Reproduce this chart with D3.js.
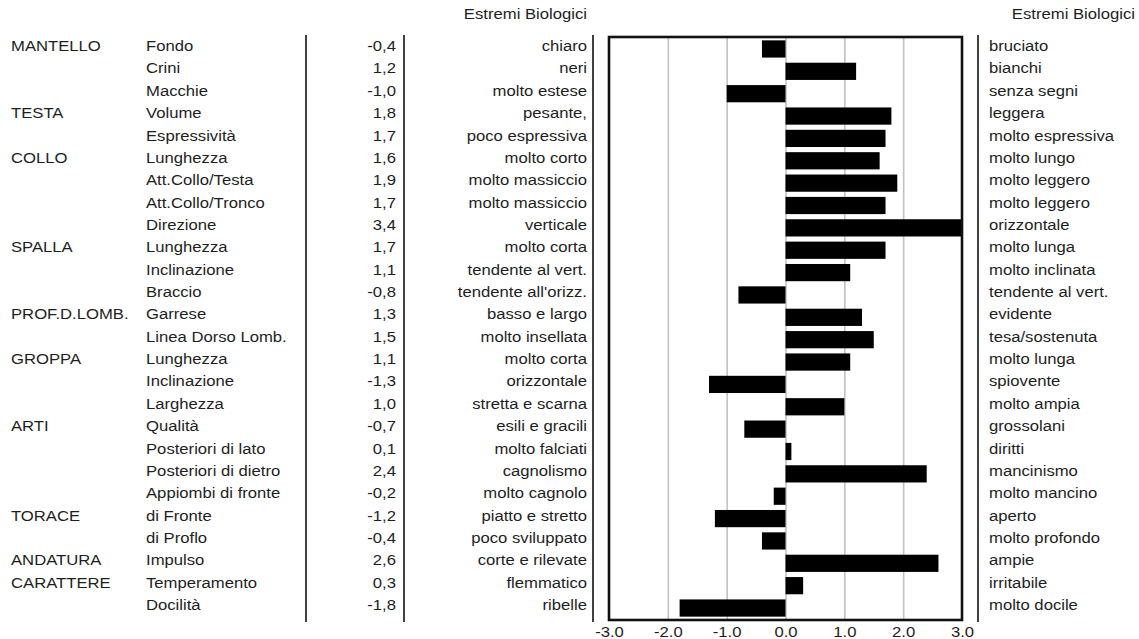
<!DOCTYPE html>
<html>
<head>
<meta charset="utf-8">
<script src="https://cdn.jsdelivr.net/npm/d3@7"></script>
<style>
  body { margin: 0; background: #fff; }
  svg text { font-family: "Liberation Sans", Arial, sans-serif; font-size: 14.5px; fill: #1e1e1e; }
</style>
</head>
<body>
<svg id="chart" width="1139" height="639"></svg>
<script>
const groups = ['MANTELLO', '', '', 'TESTA', '', 'COLLO', '', '', '', 'SPALLA', '', '', 'PROF.D.LOMB.', '',
  'GROPPA', '', '', 'ARTI', '', '', '', 'TORACE', '', 'ANDATURA', 'CARATTERE', ''];
const traits = ['Fondo', 'Crini', 'Macchie', 'Volume', 'Espressività', 'Lunghezza', 'Att.Collo/Testa',
  'Att.Collo/Tronco', 'Direzione', 'Lunghezza', 'Inclinazione', 'Braccio', 'Garrese', 'Linea Dorso Lomb.',
  'Lunghezza', 'Inclinazione', 'Larghezza', 'Qualità', 'Posteriori di lato', 'Posteriori di dietro',
  'Appiombi di fronte', 'di Fronte', 'di Proflo', 'Impulso', 'Temperamento', 'Docilità'];
const values = [-0.4, 1.2, -1.0, 1.8, 1.7, 1.6, 1.9, 1.7, 3.4, 1.7, 1.1, -0.8, 1.3, 1.5,
  1.1, -1.3, 1.0, -0.7, 0.1, 2.4, -0.2, -1.2, -0.4, 2.6, 0.3, -1.8];
const lowExtremes = ['chiaro', 'neri', 'molto estese', 'pesante,', 'poco espressiva', 'molto corto',
  'molto massiccio', 'molto massiccio', 'verticale', 'molto corta', 'tendente al vert.', "tendente all'orizz.",
  'basso e largo', 'molto insellata', 'molto corta', 'orizzontale', 'stretta e scarna', 'esili e gracili',
  'molto falciati', 'cagnolismo', 'molto cagnolo', 'piatto e stretto', 'poco sviluppato', 'corte e rilevate',
  'flemmatico', 'ribelle'];
const highExtremes = ['bruciato', 'bianchi', 'senza segni', 'leggera', 'molto espressiva', 'molto lungo',
  'molto leggero', 'molto leggero', 'orizzontale', 'molto lunga', 'molto inclinata', 'tendente al vert.',
  'evidente', 'tesa/sostenuta', 'molto lunga', 'spiovente', 'molto ampia', 'grossolani', 'diritti',
  'mancinismo', 'molto mancino', 'aperto', 'molto profondo', 'ampie', 'irritabile', 'molto docile'];
const xTicks = [-3, -2, -1, 0, 1, 2, 3];
const gridTicks = [-2, -1, 0, 1, 2];
const headerText = 'Estremi Biologici';

const frame = { left: 609, right: 962, top: 37, bottom: 620 };
const col = { group: 11, trait: 146, value: 396, low: 587, high: 989 };
const separators = [306, 404, 593, 978];
const stretch = 'scale(1.15,1)';

const svg = d3.select('#chart');

const x = d3.scaleLinear()
    .domain([-3, 3])
    .range([frame.left, frame.right])
    .clamp(true);

const y = d3.scaleBand()
    .domain(d3.range(values.length))
    .range([frame.top, frame.bottom])
    .paddingInner(0.23)
    .paddingOuter(0.15);

const fmtComma = (v) => d3.format('.1f')(v).replace('.', ',').replace('−', '-');

// grid
svg.append('g')
    .attr('class', 'grid')
    .attr('transform', 'translate(0,' + frame.bottom + ')')
    .call(d3.axisBottom(x)
      .tickValues(gridTicks)
      .tickSize(-(frame.bottom - frame.top))
      .tickFormat(''))
    .call((g) => g.select('.domain').remove())
    .call((g) => g.selectAll('line').attr('stroke', '#c2c2c2').attr('stroke-width', 1.6));

// bars
svg.append('g')
    .attr('class', 'bars')
  .selectAll('rect')
  .data(values)
  .enter().append('rect')
    .attr('x', (d) => Math.min(x(0), x(d)))
    .attr('y', (d, i) => y(i))
    .attr('width', (d) => Math.abs(x(d) - x(0)))
    .attr('height', y.bandwidth())
    .attr('fill', '#000');

// frame
svg.append('rect')
    .attr('x', frame.left)
    .attr('y', frame.top)
    .attr('width', frame.right - frame.left)
    .attr('height', frame.bottom - frame.top)
    .attr('fill', 'none')
    .attr('stroke', '#111')
    .attr('stroke-width', 2.6);

// separators
svg.append('g')
  .selectAll('line')
  .data(separators)
  .enter().append('line')
    .attr('x1', (d) => d).attr('x2', (d) => d)
    .attr('y1', 35).attr('y2', 622)
    .attr('stroke', '#111')
    .attr('stroke-width', 1.6);

// x axis labels
svg.append('g')
    .attr('class', 'axis-x')
    .attr('transform', 'translate(0,' + frame.bottom + ')')
    .call(d3.axisBottom(x)
      .tickValues(xTicks)
      .tickSize(0)
      .tickPadding(7)
      .tickFormat(d3.format('.1f')))
    .call((g) => g.select('.domain').remove())
    .call((g) => g.selectAll('text')
      .attr('fill', '#1e1e1e')
      .style('font-size', '14.5px')
      .attr('font-family', null)
      .attr('transform', stretch)
      .text((d) => d3.format('.1f')(d).replace('−', '-')));

// row texts
const rowY = (i) => y(i) + y.bandwidth() / 2 - 3;

function column(data, xPos, anchor) {
  svg.append('g')
    .selectAll('text')
    .data(data)
    .enter().append('text')
      .attr('transform', (d, i) => 'translate(' + xPos + ',' + rowY(i) + ') ' + stretch)
      .attr('dy', '0.35em')
      .attr('text-anchor', anchor)
      .text((d) => d);
}

column(groups, col.group, 'start');
column(traits, col.trait, 'start');
column(values.map(fmtComma), col.value, 'end');
column(lowExtremes, col.low, 'end');
column(highExtremes, col.high, 'start');

// headers
svg.append('text')
    .attr('transform', 'translate(' + col.low + ',19) ' + stretch)
    .attr('text-anchor', 'end')
    .text(headerText);
svg.append('text')
    .attr('transform', 'translate(1135,19) ' + stretch)
    .attr('text-anchor', 'end')
    .text(headerText);
</script>
</body>
</html>
